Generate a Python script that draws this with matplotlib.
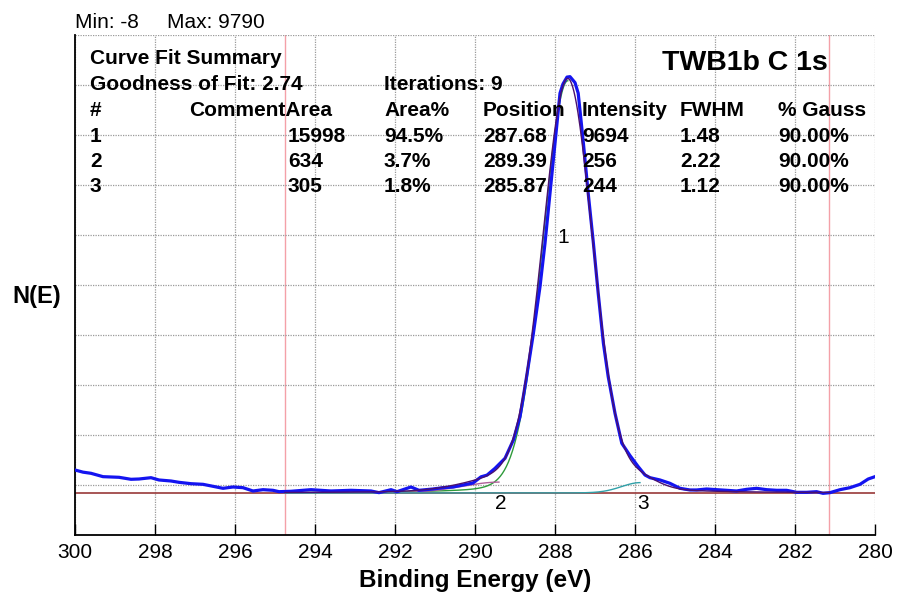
import numpy as np
import matplotlib.pyplot as plt

plt.rcParams['font.family'] = ['Liberation Sans', 'DejaVu Sans']

# measured C 1s spectrum (binding energy in eV, counts)
energy = [300.0, 299.8, 299.6, 299.3, 298.9, 298.6, 298.4, 298.1, 297.9, 297.6,
          297.4, 297.1, 296.8, 296.55, 296.3, 296.05, 295.8, 295.55, 295.3, 295.05,
          294.9, 294.6, 294.1, 293.6, 293.1, 292.6, 292.4, 292.1, 291.95, 291.6,
          291.4, 291.05, 290.8, 290.55, 290.3, 290.05, 289.85, 289.7, 289.5, 289.25,
          289.04, 288.875, 288.71, 288.54, 288.375, 288.25, 288.125, 288.0, 287.875, 287.8,
          287.7, 287.625, 287.5, 287.42, 287.29, 287.17, 287.04, 286.92, 286.79, 286.67,
          286.5, 286.33, 286.125, 285.92, 285.75, 285.625, 285.375, 285.125, 284.875, 284.625,
          284.46, 284.21, 283.96, 283.71, 283.46, 283.21, 282.96, 282.71, 282.46, 282.21,
          281.96, 281.71, 281.46, 281.3, 281.125, 280.875, 280.625, 280.375, 280.17, 280.0]
counts = [541, 490, 463, 384, 369, 322, 329, 360, 306, 282,
          251, 219, 204, 157, 110, 141, 125, 47, 78, 63,
          31, 40, 78, 47, 63, 47, 8, 78, 31, 141,
          63, 94, 125, 141, 188, 235, 380, 420, 580, 815,
          1247, 1795, 2735, 3756, 4852, 5873, 7049, 8225, 9401, 9620,
          9780, 9790, 9650, 9401, 8225, 7049, 5873, 4697, 3521, 2735,
          1874, 1169, 880, 620, 423, 360, 306, 227, 110, 71,
          71, 94, 78, 63, 47, 86, 110, 78, 63, 63,
          16, 16, 31, -8, 8, 78, 125, 204, 329, 384]

# curve fit summary
peak_id = ['1', '2', '3']
area = [15998, 634, 305]
area_pct = ['94.5%', '3.7%', '1.8%']
position = [287.68, 289.39, 285.87]
intensity = [9694, 256, 244]
fwhm = [1.48, 2.22, 1.12]
gauss = [90.00, 90.00, 90.00]
comp_colors = ['#2e9a3a', '#b0609a', '#30a0a8']

region = (294.75, 281.14)
background = 0.0
ymin, ymax = -8, 9790
pad = 0.1 * (ymax - ymin)


def gl_peak(x, x0, h, w, g):
    m = g / 100.0
    d = (x - x0) / w
    return h * (m * np.exp(-4 * np.log(2) * d**2) + (1 - m) / (1 + 4 * d**2))


fig = plt.figure(figsize=(8.99, 5.96), dpi=100)
ax = fig.add_axes([75 / 899, 61 / 596, 800 / 899, 500 / 596])

xf = np.linspace(region[0], region[1], 800)
env = np.full_like(xf, background)
for i in range(len(position)):
    env += gl_peak(xf, position[i], intensity[i], fwhm[i], gauss[i])

# background and region limits
ax.axhline(background, color='#a04848', lw=1.3, zorder=2)
for r in region:
    ax.axvline(r, color='#f4a0a8', lw=1.0, zorder=1)

# raw data, envelope and components
ax.plot(energy, counts, color='#1414f0', lw=2.3, zorder=4)
ax.plot(xf, env, color='#4a1070', lw=1.0, zorder=5)
for i in range(len(position)):
    xc = xf[xf >= position[i]]
    yc = background + gl_peak(xc, position[i], intensity[i], fwhm[i], gauss[i])
    ax.plot(xc, yc, color=comp_colors[i], lw=1.0, zorder=3)

ax.set_xlim(300, 280)
ax.set_ylim(ymin - pad, ymax + pad)
ax.set_xticks(np.arange(300, 279, -2))
ax.set_yticks(np.linspace(ymin - pad, ymax + pad, 11))
ax.set_yticklabels([])
ax.tick_params(axis='y', length=0)
ax.tick_params(axis='x', direction='in', length=8, width=1, labelsize=15, pad=6)
ax.grid(True, color='#9a9a9a', lw=0.9, linestyle=(0, (1, 1)))
for s in ['top', 'right']:
    ax.spines[s].set_visible(False)
for s in ['left', 'bottom']:
    ax.spines[s].set_linewidth(1.3)

ax.set_xlabel('Binding Energy (eV)', fontsize=17.5, fontweight='bold', labelpad=5)
fig.text(37 / 899, 1 - 297 / 596, 'N(E)', fontsize=17, fontweight='bold',
         ha='center', va='center')

# peak labels
ax.text(287.8, 6000, '1', fontsize=15, ha='center', va='center')
ax.text(289.35, -240, '2', fontsize=15, ha='center', va='center')
ax.text(285.8, -240, '3', fontsize=15, ha='center', va='center')


def ftext(x, y, s, **kw):
    fig.text(x / 899, 1 - y / 596, s, va='center', **kw)


ftext(75, 22, 'Min: -8', fontsize=15)
ftext(167, 22, 'Max: %d' % ymax, fontsize=15)
ftext(662, 63, 'TWB1b C 1s', fontsize=20.5, fontweight='bold')

bold = dict(fontsize=15, fontweight='bold')
ftext(90, 58, 'Curve Fit Summary', **bold)
ftext(90, 85, 'Goodness of Fit: 2.74', **bold)
ftext(384, 85, 'Iterations: 9', **bold)
cols = [90, 189, 384, 483, 582, 680, 778]
heads = ['#', 'CommentArea', 'Area%', 'Position', 'Intensity', 'FWHM', '% Gauss']
for cx, h in zip(cols, heads):
    ftext(cx, 110, h, **bold)
for i in range(len(peak_id)):
    y = 136 + 25 * i
    ftext(90, y, peak_id[i], **bold)
    ftext(288, y, str(area[i]), **bold)
    ftext(384, y, area_pct[i], **bold)
    ftext(483, y, '%.2f' % position[i], **bold)
    ftext(582, y, str(intensity[i]), **bold)
    ftext(680, y, '%.2f' % fwhm[i], **bold)
    ftext(778, y, '%.2f%%' % gauss[i], **bold)

fig.savefig('out.png', dpi=100)
